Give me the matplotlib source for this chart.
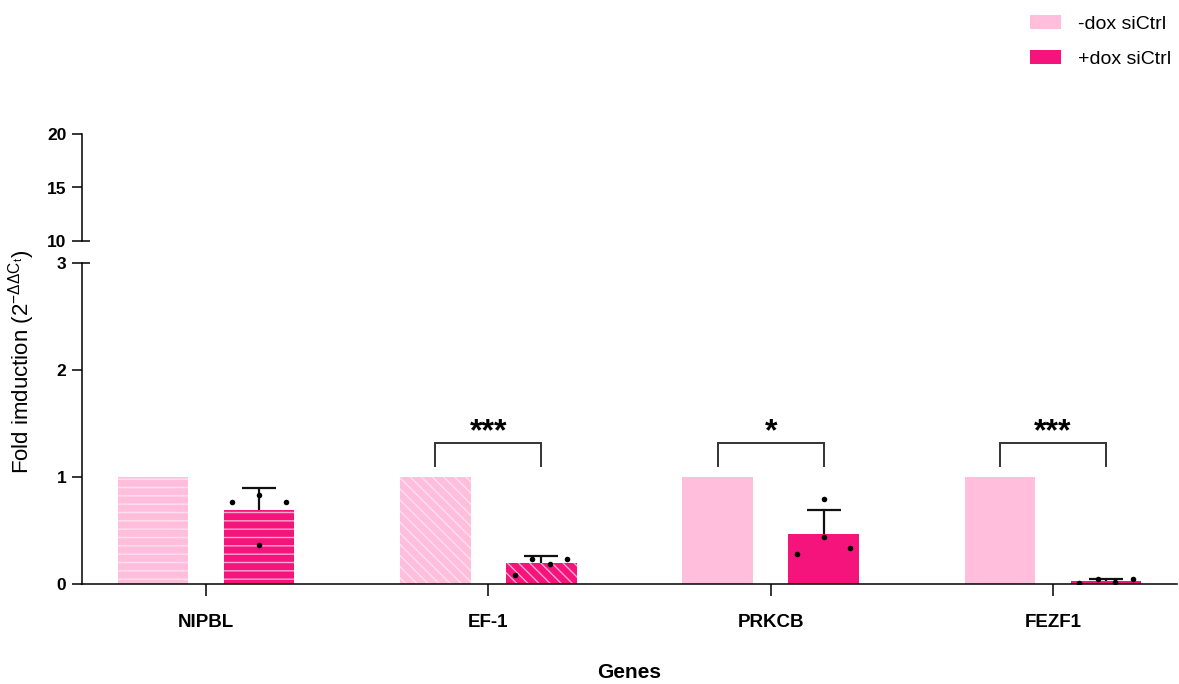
import matplotlib
matplotlib.use('Agg')
import matplotlib.pyplot as plt
import numpy as np
from matplotlib.patches import Patch

plt.rcParams['font.family'] = ['Liberation Sans', 'DejaVu Sans']
plt.rcParams['mathtext.default'] = 'regular'
plt.rcParams['hatch.linewidth'] = 1.0

# ---------------- data ----------------
genes = ['NIPBL', 'EF-1', 'PRKCB', 'FEZF1']
series_labels = ['-dox siCtrl', '+dox siCtrl']
ctrl_mean = [1.0, 1.0, 1.0, 1.0]
dox_mean = [0.69, 0.196, 0.47, 0.03]
dox_sd = [0.21, 0.064, 0.22, 0.02]
dox_reps = [
    [0.77, 0.83, 0.36, 0.77],
    [0.08, 0.23, 0.19, 0.23],
    [0.28, 0.79, 0.44, 0.34],
    [0.01, 0.05, 0.02, 0.05],
]
sig_labels = ['', '***', '*', '***']
yticks_low = [0, 1, 2, 3]
yticks_high = [10, 15, 20]

# ---------------- style / layout ----------------
light = '#FFBEDC'
dark = '#F5137C'
light_hatch = '#FFE0EE'
dark_hatch = '#FFA8CF'
hatches = ['--', '\\\\\\', '', '']
rep_offsets = [
    [-0.095, 0.0, 0.0, 0.095],
    [-0.095, -0.035, 0.03, 0.092],
    [-0.095, 0.0, 0.0, 0.092],
    [-0.095, -0.03, 0.033, 0.095],
]
bar_w = 0.25
off = 0.188

W, H = 1179, 684
fig = plt.figure(figsize=(W / 100, H / 100), dpi=100)
L, R = 82, 1177
ax = fig.add_axes([L / W, (H - 584) / H, (R - L) / W, (584 - 263) / H])
axu = fig.add_axes([L / W, (H - 241) / H, (R - L) / W, (241 - 134) / H])

x = np.arange(len(genes))
for i in range(len(genes)):
    ax.bar(x[i] - off, ctrl_mean[i], width=bar_w, color=light, edgecolor=light_hatch,
           linewidth=0, hatch=hatches[i] or None, zorder=2)
    ax.bar(x[i] + off, dox_mean[i], width=bar_w, color=dark, edgecolor=dark_hatch,
           linewidth=0, hatch=hatches[i] or None, zorder=2)

eb = ax.errorbar(x + off, dox_mean, yerr=[np.zeros(len(genes)), dox_sd], fmt='none',
                 ecolor='#111111', elinewidth=1.6, capsize=12.5, capthick=1.6, zorder=3)
for cl in eb[1]:
    if np.allclose(cl.get_ydata(), dox_mean):
        cl.set_visible(False)

for i in range(len(genes)):
    ax.scatter(x[i] + off + np.array(rep_offsets[i]), dox_reps[i], s=16, marker='o',
               color='black', zorder=4, linewidths=0)

for i, lab in enumerate(sig_labels):
    if not lab:
        continue
    xl, xr = x[i] - off, x[i] + off
    ax.plot([xl, xl, xr, xr], [1.10, 1.32, 1.32, 1.10], color='#333333', lw=1.4,
            zorder=3, solid_joinstyle='miter')
    ax.text((xl + xr) / 2, 1.345, lab, ha='center', va='baseline', fontsize=23,
            fontweight='bold', color='black')

ax.set_xlim(-0.439, 3.439)
ax.set_ylim(0, 3)
ax.set_yticks(yticks_low)
ax.set_xticks(x)
ax.set_xticklabels(genes, fontsize=13.5, fontweight='bold')
ax.tick_params(axis='x', length=8.6, width=1.1, pad=13, direction='out')
ax.tick_params(axis='y', length=7.2, width=1.1, pad=4, labelsize=12.5)
for t in ax.get_yticklabels():
    t.set_fontweight('bold')
for s in ['top', 'right']:
    ax.spines[s].set_visible(False)
for s in ['left', 'bottom']:
    ax.spines[s].set_linewidth(1.1)

axu.set_ylim(10, 20)
axu.set_xlim(-0.439, 3.439)
axu.set_yticks(yticks_high)
axu.set_xticks([])
axu.tick_params(axis='y', length=7.2, width=1.1, pad=4, labelsize=12.5)
for t in axu.get_yticklabels():
    t.set_fontweight('bold')
for s in ['top', 'right', 'bottom']:
    axu.spines[s].set_visible(False)
axu.spines['left'].set_linewidth(1.1)
axu.patch.set_alpha(0)

# break marks crossing the spine
ax.plot([0, 8 / (R - L)], [3, 3], transform=ax.get_yaxis_transform(), color='black',
        lw=1.1, clip_on=False, solid_capstyle='butt')
axu.plot([0, 8 / (R - L)], [10, 10], transform=axu.get_yaxis_transform(), color='black',
         lw=1.1, clip_on=False, solid_capstyle='butt')

fig.text(22 / W, 1 - 362 / H, r'Fold imduction (2$^{-ΔΔC_t}$)', rotation=90,
         ha='center', va='center', fontsize=16)
fig.text((L + R) / 2 / W, 1 - 673 / H, 'Genes', ha='center', va='center',
         fontsize=15, fontweight='bold')

handles = [Patch(facecolor=light, edgecolor='none'), Patch(facecolor=dark, edgecolor='none')]
fig.legend(handles, series_labels, loc='upper left', bbox_to_anchor=(1030 / W, 1 - 15 / H),
           frameon=False, fontsize=14, handlelength=1.6, handleheight=0.7,
           handletextpad=0.85, labelspacing=0.9, borderpad=0, borderaxespad=0)

fig.savefig('out.png', dpi=100)
